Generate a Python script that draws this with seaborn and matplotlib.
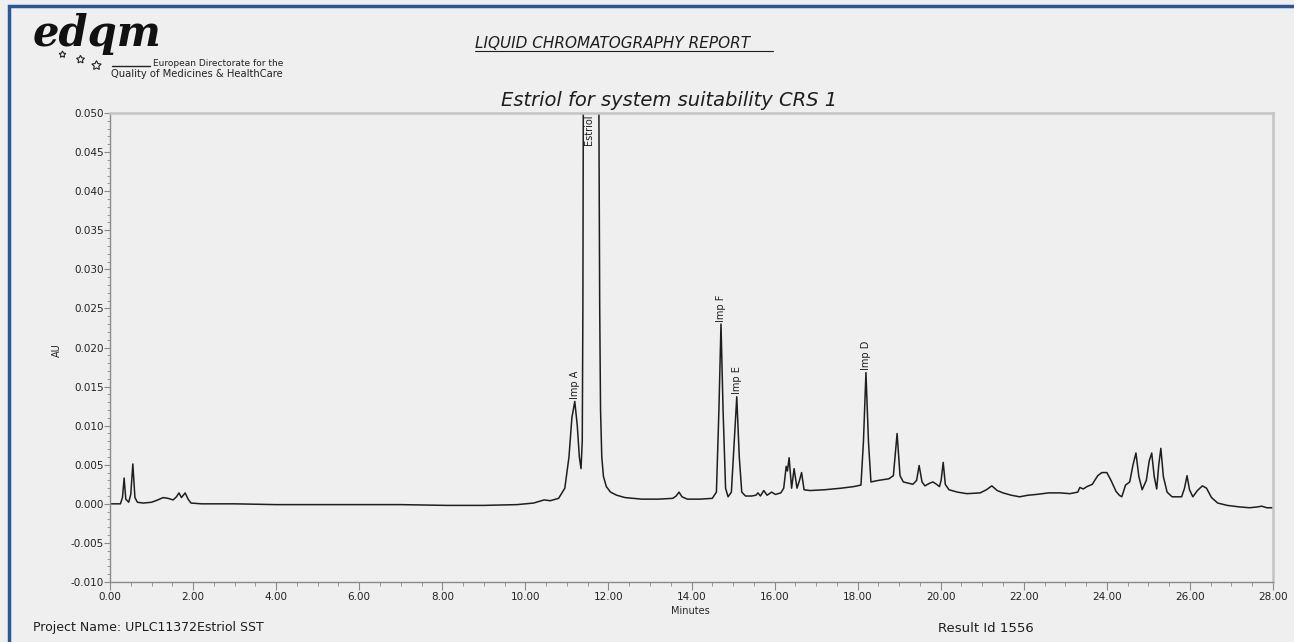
import numpy as np
import pandas as pd
import seaborn as sns
import matplotlib.pyplot as plt
from matplotlib.lines import Line2D
from matplotlib.patches import Rectangle
from matplotlib.ticker import MultipleLocator, FormatStrFormatter

# chromatogram trace (minutes, AU)
minutes = [
    0.00, 0.25, 0.30, 0.34, 0.38, 0.45, 0.50, 0.55, 0.60, 0.66, 0.80, 1.00,
    1.15, 1.28, 1.40, 1.52, 1.60, 1.66, 1.72, 1.81, 1.88, 1.95, 2.20, 3.00,
    4.00, 5.00, 6.00, 7.00, 8.10, 9.00, 9.80, 10.20, 10.45, 10.60, 10.80, 10.95,
    11.05, 11.12, 11.19, 11.25, 11.30, 11.34, 11.37, 11.385, 11.395, 11.41, 11.55, 11.74,
    11.77, 11.79, 11.81, 11.84, 11.88, 11.95, 12.05, 12.20, 12.40, 12.80, 13.20, 13.55,
    13.63, 13.70, 13.77, 13.90, 14.20, 14.50, 14.60, 14.66, 14.71, 14.76, 14.82, 14.88,
    14.96, 15.03, 15.09, 15.15, 15.21, 15.30, 15.45, 15.55, 15.60, 15.66, 15.74, 15.82,
    15.93, 16.02, 16.15, 16.22, 16.28, 16.31, 16.35, 16.41, 16.47, 16.54, 16.60, 16.65,
    16.71, 16.85, 17.20, 17.60, 17.90, 18.08, 18.14, 18.20, 18.26, 18.32, 18.50, 18.75,
    18.86, 18.95, 19.02, 19.10, 19.33, 19.42, 19.48, 19.55, 19.62, 19.72, 19.81, 19.90,
    19.97, 20.01, 20.06, 20.11, 20.20, 20.40, 20.63, 20.95, 21.10, 21.23, 21.36, 21.50,
    21.70, 21.90, 22.10, 22.30, 22.60, 22.87, 23.11, 23.30, 23.35, 23.43, 23.52, 23.65,
    23.78, 23.88, 24.00, 24.10, 24.22, 24.30, 24.36, 24.45, 24.55, 24.63, 24.70, 24.77,
    24.85, 24.95, 25.02, 25.08, 25.14, 25.20, 25.25, 25.30, 25.36, 25.45, 25.57, 25.80,
    25.87, 25.93, 25.99, 26.07, 26.18, 26.30, 26.40, 26.52, 26.67, 26.90, 27.20, 27.44,
    27.62, 27.73, 27.85, 28.00,
]
au = [
    0.0000, 0.0000, 0.0008, 0.0033, 0.0006, 0.0002, 0.0012, 0.0051, 0.0008, 0.0002, 0.0001, 0.0002,
    0.0005, 0.0008, 0.0007, 0.0005, 0.0009, 0.0014, 0.0008, 0.0014, 0.0006, 0.0001, 0.0000, 0.0000,
    -0.0001, -0.0001, -0.0001, -0.0001, -0.0002, -0.0002, -0.0001, 0.0001, 0.0005, 0.0004, 0.0007, 0.0020,
    0.0060, 0.0110, 0.0131, 0.0100, 0.0060, 0.0045, 0.0080, 0.0250, 0.0500, 0.0900, 0.2500, 0.0900,
    0.0500, 0.0250, 0.0120, 0.0060, 0.0035, 0.0022, 0.0015, 0.0011, 0.0008, 0.0006, 0.0006, 0.0007,
    0.0010, 0.0015, 0.0009, 0.0006, 0.0006, 0.0007, 0.0015, 0.0120, 0.0230, 0.0120, 0.0020, 0.0009,
    0.0015, 0.0080, 0.0137, 0.0060, 0.0015, 0.0010, 0.0010, 0.0011, 0.0014, 0.0010, 0.0017, 0.0011,
    0.0015, 0.0012, 0.0014, 0.0020, 0.0048, 0.0042, 0.0059, 0.0020, 0.0045, 0.0020, 0.0030, 0.0040,
    0.0018, 0.0017, 0.0018, 0.0020, 0.0022, 0.0024, 0.0080, 0.0168, 0.0080, 0.0028, 0.0030, 0.0032,
    0.0036, 0.0090, 0.0036, 0.0028, 0.0025, 0.0030, 0.0049, 0.0028, 0.0023, 0.0026, 0.0028, 0.0025,
    0.0022, 0.0030, 0.0053, 0.0025, 0.0018, 0.0015, 0.0013, 0.0014, 0.0018, 0.0023, 0.0017, 0.0014,
    0.0011, 0.0009, 0.0011, 0.0012, 0.0014, 0.0014, 0.0013, 0.0015, 0.0021, 0.0019, 0.0022, 0.0025,
    0.0036, 0.0040, 0.0040, 0.0030, 0.0016, 0.0011, 0.0009, 0.0024, 0.0028, 0.0050, 0.0065, 0.0035,
    0.0018, 0.0030, 0.0055, 0.0065, 0.0035, 0.0019, 0.0050, 0.0071, 0.0035, 0.0015, 0.0009, 0.0009,
    0.0020, 0.0036, 0.0018, 0.0009, 0.0017, 0.0023, 0.0020, 0.0008, 0.0001, -0.0002, -0.0004, -0.0005,
    -0.0004, -0.0003, -0.0005, -0.0005,
]

peak_names = ["Imp A", "Estriol", "Imp F", "Imp E", "Imp D"]
peak_times = [11.19, 11.54, 14.71, 15.09, 18.20]

x_ticks = [0, 2, 4, 6, 8, 10, 12, 14, 16, 18, 20, 22, 24, 26, 28]

W, H = 1294, 642
BG = "#efefef"
INK = "#1e1e1e"

sns.set_theme(style="white")
plt.rcParams["font.family"] = ["DejaVu Sans"]

fig = plt.figure(figsize=(W / 100, H / 100), dpi=100, facecolor=BG)
ax = fig.add_axes([110 / W, 1 - 582 / H, (1273 - 110) / W, (582 - 113) / H])
ax.set_facecolor(BG)

df = pd.DataFrame({"Minutes": minutes, "AU": au})
sns.lineplot(data=df, x="Minutes", y="AU", ax=ax, color=INK, lw=1.1,
             estimator=None, sort=False)

ax.set_xlim(0, 28)
ax.set_ylim(-0.010, 0.050)
ax.set_xticks(x_ticks)
ax.xaxis.set_major_formatter(FormatStrFormatter("%.2f"))
ax.xaxis.set_minor_locator(MultipleLocator(0.5))
ax.yaxis.set_major_locator(MultipleLocator(0.005))
ax.yaxis.set_major_formatter(FormatStrFormatter("%.3f"))
ax.yaxis.set_minor_locator(MultipleLocator(0.001))
ax.tick_params(axis="both", which="major", labelsize=7.5, colors="#8a8a8a",
               labelcolor="#222222", width=0.8)
ax.tick_params(axis="y", which="major", length=4, pad=0.5, left=True)
ax.tick_params(axis="y", which="minor", length=2, width=0.6, colors="#8a8a8a", left=True)
ax.tick_params(axis="x", which="major", length=6, pad=1, bottom=True)
ax.tick_params(axis="x", which="minor", length=3, width=0.6, colors="#8a8a8a", bottom=True)

for side in ["left", "bottom"]:
    ax.spines[side].set_color("#8a8a8a")
    ax.spines[side].set_linewidth(1.0)
for side in ["top", "right"]:
    ax.spines[side].set_color("#c4c4c4")
    ax.spines[side].set_linewidth(1.8)

ax.set_xlabel("Minutes", fontsize=7)
ax.xaxis.set_label_coords(0.4987, -0.052)
ax.set_ylabel("AU", fontsize=7)
ax.yaxis.set_label_coords(-0.041, 0.495)

# peak labels, rotated, sitting on the apex (clamped under the top edge)
top = ax.get_ylim()[1]
for name, t in zip(peak_names, peak_times):
    h = np.interp(t, minutes, au)
    if h + 0.004 > top:
        ax.text(t, top - 0.0002, name, rotation=90, ha="center", va="top",
                fontsize=7, color=INK)
    else:
        ax.text(t, h + 0.0003, name, rotation=90, ha="center", va="bottom",
                fontsize=7, color=INK)

# report header
fig.text(669 / W, 1 - 100 / H, "Estriol for system suitability CRS 1",
         fontsize=14, style="italic", ha="center", va="center", color=INK)
fig.text(475 / W, 1 - 43 / H, "LIQUID CHROMATOGRAPHY REPORT",
         fontsize=11, style="italic", ha="left", va="center", color=INK)
fig.add_artist(Line2D([475 / W, 773 / W], [1 - 51 / H, 1 - 51 / H],
                      color=INK, lw=0.8, transform=fig.transFigure))

# logo
fig.text(33 / W, 1 - 34 / H, "edqm", fontsize=30, family="DejaVu Serif",
         style="italic", weight="bold", ha="left", va="center", color="#111111")
for sx, sy, ms in [(62, 54, 5), (80, 59, 6), (96, 65, 7)]:
    fig.add_artist(Line2D([sx / W], [1 - sy / H], marker=(5, 1), ms=ms, mfc=BG,
                          mec="#222222", mew=0.8, transform=fig.transFigure))
fig.add_artist(Line2D([112 / W, 150 / W], [1 - 66 / H, 1 - 66 / H],
                      color="#222222", lw=1.0, transform=fig.transFigure))
fig.text(153 / W, 1 - 63 / H, "European Directorate for the", fontsize=6.5,
         ha="left", va="center", color="#222222")
fig.text(111 / W, 1 - 74 / H, "Quality of Medicines & HealthCare", fontsize=7.2,
         ha="left", va="center", color="#222222")

# footer
fig.text(33 / W, 1 - 628 / H, "Project Name: UPLC11372Estriol SST",
         fontsize=9, ha="left", va="center", color=INK)
fig.text(938 / W, 1 - 628 / H, "Result Id 1556",
         fontsize=9.5, ha="left", va="center", color=INK)

# blue frame of the page
fig.add_artist(Rectangle((9 / W, -0.1), 2, 1 - 6 / H + 0.1, transform=fig.transFigure,
                         fill=False, ec="#2b5797", lw=2.5))

fig.savefig("out.png", dpi=100, facecolor=BG)
